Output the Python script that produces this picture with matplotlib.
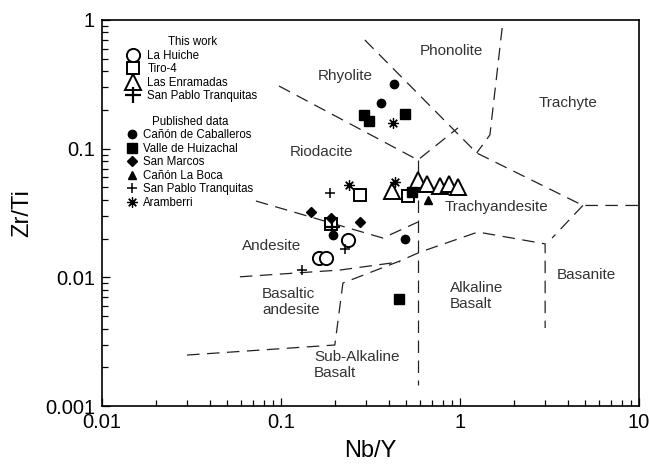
import numpy as np
import matplotlib
matplotlib.use("Agg")
import matplotlib.pyplot as plt
from matplotlib.ticker import LogLocator, FuncFormatter, NullFormatter

plt.rcParams['font.family'] = ['Liberation Sans', 'DejaVu Sans']

# --- this work ---
huiche_nby = [0.163, 0.178, 0.237]
huiche_zrti = [0.0142, 0.0142, 0.0195]
tiro_nby = [0.276, 0.512, 0.190]
tiro_zrti = [0.0437, 0.0429, 0.0262]
enramadas_nby = [0.417, 0.582, 0.655, 0.773, 0.869, 0.975]
enramadas_zrti = [0.0469, 0.0571, 0.0532, 0.0513, 0.0532, 0.0504]
spt_nby = [0.192]
spt_zrti = [0.0245]

# --- published data ---
caballeros_nby = [0.428, 0.362, 0.195, 0.493]
caballeros_zrti = [0.318, 0.226, 0.0214, 0.0199]
huizachal_nby = [0.291, 0.310, 0.493, 0.539, 0.456]
huizachal_zrti = [0.183, 0.164, 0.186, 0.0461, 0.0068]
marcos_nby = [0.147, 0.190, 0.276]
marcos_zrti = [0.0322, 0.0289, 0.0269]
boca_nby = [0.662]
boca_zrti = [0.0399]
spt_pub_nby = [0.188, 0.131, 0.228]
spt_pub_zrti = [0.0453, 0.0114, 0.0165]
aramberri_nby = [0.423, 0.240, 0.434]
aramberri_zrti = [0.158, 0.0522, 0.0551]

# --- field boundaries (Nb/Y, Zr/Ti) ---
bound_rhy_pho = [(0.294, 0.70), (1.24, 0.0926), (4.86, 0.0362), (10, 0.0362)]
bound_pho_tra = [(1.72, 0.867), (1.47, 0.128), (1.24, 0.0926)]
bound_rhy_rio = [(0.0975, 0.307), (0.582, 0.0817), (0.975, 0.145)]
bound_rio_and = [(0.0725, 0.0392), (0.371, 0.0202), (0.582, 0.0269)]
bound_subalk = [(0.582, 0.0817), (0.582, 0.00146)]
bound_and_bas = [(0.059, 0.0101), (0.214, 0.0114), (0.462, 0.0132)]
bound_basalt = [(0.0299, 0.00249), (0.200, 0.00298), (0.222, 0.00904),
                (0.462, 0.0134), (0.598, 0.0157), (1.26, 0.0225),
                (2.99, 0.0182), (2.99, 0.00404)]
bound_tra_bsn = [(4.86, 0.0362), (3.27, 0.0202)]

boundaries = [bound_rhy_pho, bound_pho_tra, bound_rhy_rio, bound_rio_and,
              bound_subalk, bound_and_bas, bound_basalt, bound_tra_bsn]

fields = [
    ("Phonolite", 0.90, 0.574, 'center'),
    ("Rhyolite", 0.228, 0.367, 'center'),
    ("Trachyte", 4.01, 0.226, 'center'),
    ("Riodacite", 0.169, 0.0942, 'center'),
    ("Trachyandesite", 1.61, 0.0352, 'center'),
    ("Andesite", 0.089, 0.0175, 'center'),
    ("Basaltic\nandesite", 0.0783, 0.00644, 'left'),
    ("Sub-Alkaline\nBasalt", 0.153, 0.00209, 'left'),
    ("Alkaline\nBasalt", 0.879, 0.00717, 'left'),
    ("Basanite", 5.06, 0.01044, 'center'),
]

fig = plt.figure(figsize=(6.49, 4.76), dpi=100)
ax = fig.add_axes([0.157, 0.147, 0.8276, 0.811])

for b in boundaries:
    bx, by = zip(*b)
    ax.plot(bx, by, color='#222222', lw=0.9, ls=(0, (10, 6)), zorder=1)

for name, fx, fy, ha in fields:
    ax.text(fx, fy, name, fontsize=11, color='#333333', ha=ha, va='center',
            linespacing=1.15)

ms_open = dict(ls='none', mfc='white', mec='black', mew=1.4, zorder=3)
h1, = ax.plot(huiche_nby, huiche_zrti, marker='o', ms=9.5, label='La Huiche', **ms_open)
h2, = ax.plot(tiro_nby, tiro_zrti, marker='s', ms=8.5, label='Tiro-4', **ms_open)
h3, = ax.plot(enramadas_nby, enramadas_zrti, marker='^', ms=11, label='Las Enramadas', **ms_open)
h4, = ax.plot(spt_nby, spt_zrti, marker='+', ms=11, ls='none', color='black', mew=1.6,
              label='San Pablo Tranquitas', zorder=4)

ms_fill = dict(ls='none', color='black', zorder=3)
p1, = ax.plot(caballeros_nby, caballeros_zrti, marker='o', ms=6, label='Cañón de Caballeros', **ms_fill)
p2, = ax.plot(huizachal_nby, huizachal_zrti, marker='s', ms=6.5, label='Valle de Huizachal', **ms_fill)
p3, = ax.plot(marcos_nby, marcos_zrti, marker='D', ms=5.5, label='San Marcos', **ms_fill)
p4, = ax.plot(boca_nby, boca_zrti, marker='^', ms=6, label='Cañón La Boca', **ms_fill)
p5, = ax.plot(spt_pub_nby, spt_pub_zrti, marker='+', ms=7, mew=1.1, label='San Pablo Tranquitas', **ms_fill)
p6, = ax.plot(aramberri_nby, aramberri_zrti, marker=(8, 2, 0), ms=7.5, mew=0.9,
              label='Aramberri', **ms_fill)

leg1 = ax.legend(handles=[h1, h2, h3, h4], title='This work', loc='upper left',
                 bbox_to_anchor=(0.047, 0.958), frameon=False, fontsize=8.3,
                 title_fontsize=8.3, handlelength=1.0, handletextpad=0.75,
                 labelspacing=0.13, borderpad=0, borderaxespad=0)
ax.add_artist(leg1)
ax.legend(handles=[p1, p2, p3, p4, p5, p6], title='Published data', loc='upper left',
          bbox_to_anchor=(0.047, 0.752), frameon=False, fontsize=8.3,
          title_fontsize=8.3, handlelength=0.8, handletextpad=0.56,
          labelspacing=0.13, borderpad=0, borderaxespad=0)

ax.set_xscale('log')
ax.set_yscale('log')
ax.set_xlim(0.01, 10)
ax.set_ylim(0.001, 1)

fmt = FuncFormatter(lambda v, p: '{:g}'.format(v))
for axis in (ax.xaxis, ax.yaxis):
    axis.set_major_locator(LogLocator(base=10))
    axis.set_minor_locator(LogLocator(base=10, subs=np.arange(2, 10)))
    axis.set_major_formatter(fmt)
    axis.set_minor_formatter(NullFormatter())

ax.tick_params(which='both', direction='in', top=False, right=False, width=0.9)
ax.tick_params(which='major', length=6, labelsize=14.5, pad=5)
ax.tick_params(which='minor', length=4)
for s in ax.spines.values():
    s.set_linewidth(1.2)

ax.set_xlabel('Nb/Y', fontsize=17, labelpad=6)
ax.set_ylabel('Zr/Ti', fontsize=17, labelpad=8)

fig.savefig('out.png', dpi=100)
